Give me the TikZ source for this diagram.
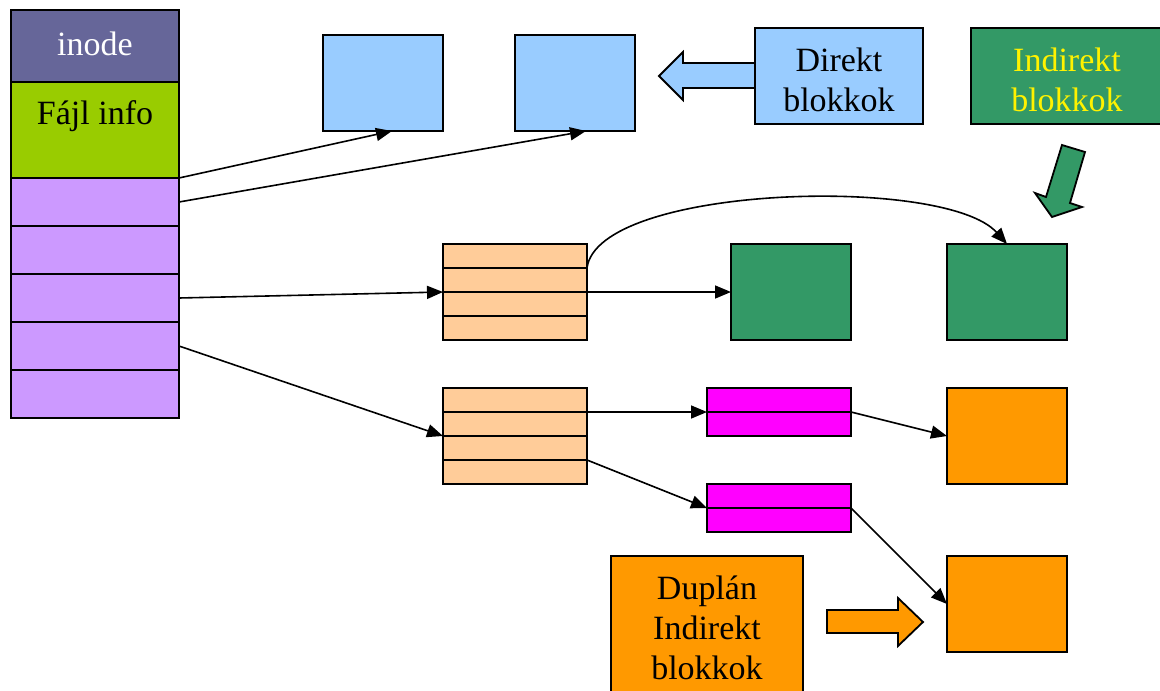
\documentclass[tikz,border=0pt]{standalone}
\usepackage{fontspec}
\setmainfont{Liberation Serif}
\usetikzlibrary{arrows.meta,calc}
\definecolor{inodec}{HTML}{666699}
\definecolor{infoc}{HTML}{99CC00}
\definecolor{slotc}{HTML}{CC99FF}
\definecolor{directc}{HTML}{99CCFF}
\definecolor{indirc}{HTML}{339966}
\definecolor{peachc}{HTML}{FFCC99}
\definecolor{magc}{HTML}{FF00FF}
\definecolor{dblc}{HTML}{FF9900}
\begin{document}
\begin{tikzpicture}[x=1pt,y=-1pt,
  box/.style={draw=black, line width=1.8pt, inner sep=0pt, outer sep=0pt, anchor=north west},
  slot/.style={box, fill=slotc, minimum width=168pt, minimum height=48pt},
  block/.style={box, minimum width=120pt, minimum height=96pt},
  prow/.style={box, fill=peachc, line width=1.1pt, minimum width=144pt, minimum height=24pt},
  mrow/.style={box, fill=magc, minimum width=144pt, minimum height=24pt},
  big/.style={font=\fontsize{34}{40}\selectfont, align=center},
  conn/.style={line width=1.6pt, -{Triangle[length=16pt,width=13pt]}},
  fatarrow/.style={draw=black, line width=1.8pt, line join=miter}
]
\useasboundingbox (0,0) rectangle (1160,691);

% inode column
\node[box, fill=inodec, minimum width=168pt, minimum height=72pt] (inode) at (11,10) {};
\node[big, text=white] (inodetext) at (95,44) {inode};
\node[box, fill=infoc, minimum width=168pt, minimum height=96pt] (info) at (11,82) {};
\node[big] (infotext) at (95,116) {Fájl info};
\node[slot] (r1) at (11,178) {};
\node[slot] (r2) at (11,226) {};
\node[slot] (r3) at (11,274) {};
\node[slot] (r4) at (11,322) {};
\node[slot] (r5) at (11,370) {};

% direct data blocks
\node[block, fill=directc] (b1) at (323,35) {};
\node[block, fill=directc] (b2) at (515,35) {};

% legend boxes
\node[box, fill=directc, minimum width=168pt, minimum height=96pt] (dlabel) at (755,28) {};
\node[big] (dtext) at (839,80) {Direkt\\blokkok};
\node[box, fill=indirc, minimum width=192pt, minimum height=96pt] (ilabel) at (971,28) {};
\node[big, text=yellow] (itext) at (1067,80) {Indirekt\\blokkok};
\node[box, fill=dblc, minimum width=192pt, minimum height=144pt, big] (dilabel) at (611,556) {Duplán\\Indirekt\\blokkok};

% legend arrows
\draw[fatarrow, fill=directc] (755,63) -- (683,63) -- (683,52) -- (659,76) -- (683,100) -- (683,88) -- (755,88) -- cycle;
\draw[fatarrow, fill=indirc] (1062,145) -- (1085,152) -- (1070,203) -- (1082,207) -- (1052,217) -- (1035,193) -- (1046,197) -- cycle;
\draw[fatarrow, fill=dblc] (827,610) -- (898,610) -- (898,598) -- (923,622) -- (898,646) -- (898,633) -- (827,633) -- cycle;

% single indirect block
\node[prow] (p1a) at (443,244) {};
\node[prow] (p1b) at (443,268) {};
\node[prow] (p1c) at (443,292) {};
\node[prow] (p1d) at (443,316) {};
\draw[line width=1.8pt] (p1a.north west) rectangle (p1d.south east);
\node[block, fill=indirc] (g1) at (731,244) {};
\node[block, fill=indirc] (g2) at (947,244) {};

% double indirect block
\node[prow] (p2a) at (443,388) {};
\node[prow] (p2b) at (443,412) {};
\node[prow] (p2c) at (443,436) {};
\node[prow] (p2d) at (443,460) {};
\draw[line width=1.8pt] (p2a.north west) rectangle (p2d.south east);
\node[mrow] (m1a) at (707,388) {};
\node[mrow] (m1b) at (707,412) {};
\node[mrow] (m2a) at (707,484) {};
\node[mrow] (m2b) at (707,508) {};
\node[block, fill=dblc] (o1) at (947,388) {};
\node[block, fill=dblc] (o2) at (947,556) {};

% pointers
\draw[conn] (r1.north east) -- ($(b1.south)+(9,0)$);
\draw[conn] (r1.east) -- ($(b2.south)+(11,0)$);
\draw[conn] (r3.east) -- (p1b.south west);
\draw[conn] (p1b.south east) -- (g1.west);
\draw[conn] (p1a.south east) .. controls (598,185) and (945,175) .. (g2.north);
\draw[conn] (r4.east) -- (p2b.south west);
\draw[conn] (p2a.south east) -- (m1a.south west);
\draw[conn] (p2c.south east) -- (m2a.south west);
\draw[conn] (m1a.south east) -- (o1.west);
\draw[conn] (m2a.south east) -- (o2.west);
\end{tikzpicture}
\end{document}
